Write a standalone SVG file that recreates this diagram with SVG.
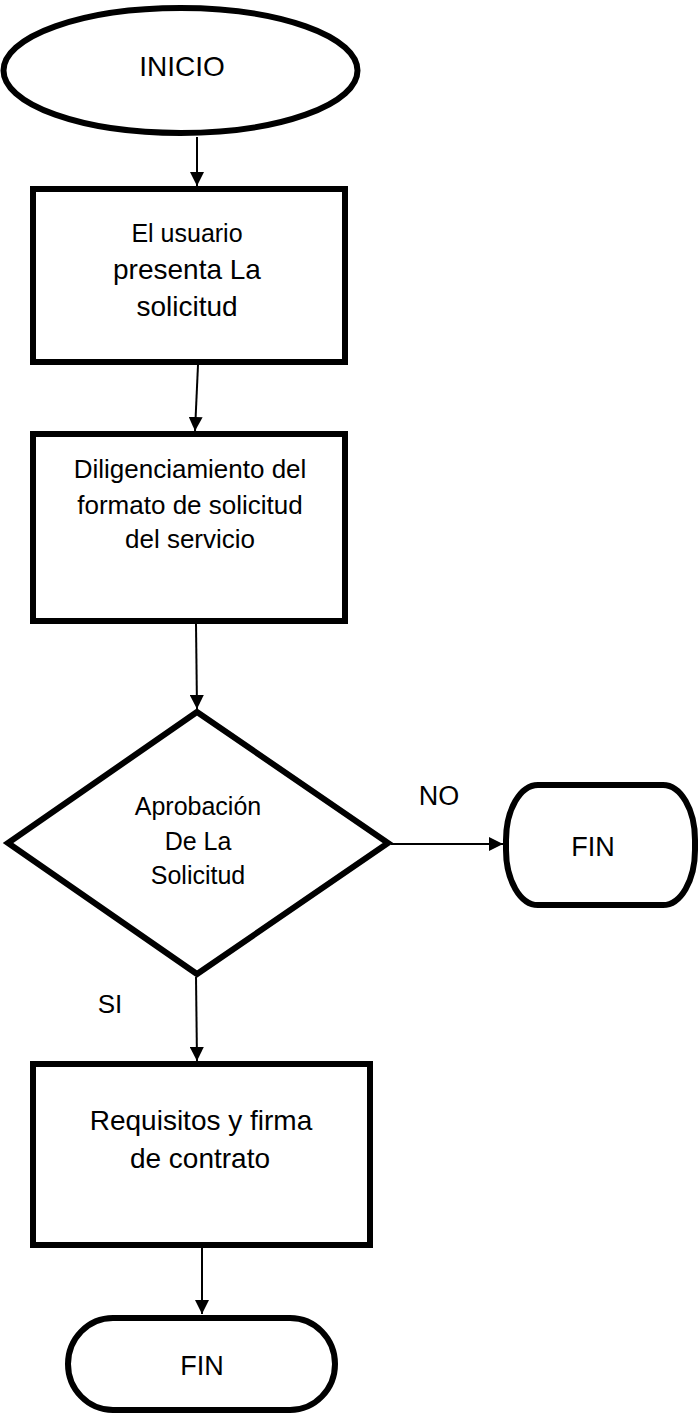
<svg xmlns="http://www.w3.org/2000/svg" width="699" height="1415" viewBox="0 0 699 1415">
  <style>
    .shape { fill: #ffffff; stroke: #000000; stroke-width: 6; }
    .conn { fill: none; stroke: #000000; stroke-width: 2; }
    text { font-family: "Liberation Sans", Arial, sans-serif; fill: #000000; text-anchor: middle; }
  </style>
  <defs>
    <marker id="arrow" markerUnits="userSpaceOnUse" markerWidth="14" markerHeight="14" refX="14" refY="7" orient="auto">
      <path d="M0,0 L14,7 L0,14 z" fill="#000000"/>
    </marker>
  </defs>
  <rect width="699" height="1415" fill="#ffffff"/>

  <g id="connectors">
    <path class="conn" d="M197,137 L197,186" marker-end="url(#arrow)"/>
    <path class="conn" d="M198,365 L195,431" marker-end="url(#arrow)"/>
    <path class="conn" d="M196,624 L197,709" marker-end="url(#arrow)"/>
    <path class="conn" d="M391,844 L503,844" marker-end="url(#arrow)"/>
    <path class="conn" d="M196,977 L197,1061" marker-end="url(#arrow)"/>
    <path class="conn" d="M202,1248 L202,1314" marker-end="url(#arrow)"/>
    <text x="439" y="805" font-size="27">NO</text>
    <text x="110" y="1013" font-size="26">SI</text>
  </g>

  <g id="inicio">
    <ellipse class="shape" cx="180.5" cy="70.5" rx="177" ry="62.5"/>
    <text x="182" y="76" font-size="28">INICIO</text>
  </g>

  <g id="presenta">
    <rect class="shape" x="33" y="189" width="312" height="173"/>
    <text x="187" y="242" font-size="25">El usuario</text>
    <text x="187" y="279" font-size="28">presenta La</text>
    <text x="187" y="316" font-size="28">solicitud</text>
  </g>

  <g id="diligenciamiento">
    <rect class="shape" x="33" y="434" width="312" height="187"/>
    <text x="190" y="478" font-size="26">Diligenciamiento del</text>
    <text x="190" y="514" font-size="26">formato de solicitud</text>
    <text x="190" y="548" font-size="26">del servicio</text>
  </g>

  <g id="aprobacion">
    <polygon class="shape" points="197,712 388,843 197,974 8,843"/>
    <text x="198" y="815" font-size="25">Aprobación</text>
    <text x="198" y="850" font-size="25">De La</text>
    <text x="198" y="884" font-size="25">Solicitud</text>
  </g>

  <g id="fin-no">
    <rect class="shape" x="506" y="785" width="189" height="120" rx="32" ry="55"/>
    <text x="593" y="856" font-size="27">FIN</text>
  </g>

  <g id="requisitos">
    <rect class="shape" x="33" y="1064" width="337" height="181"/>
    <text x="201" y="1130" font-size="28">Requisitos y firma</text>
    <text x="200" y="1168" font-size="28">de contrato</text>
  </g>

  <g id="fin">
    <rect class="shape" x="68" y="1318" width="267" height="92" rx="45" ry="46"/>
    <text x="202" y="1375" font-size="27">FIN</text>
  </g>
</svg>
